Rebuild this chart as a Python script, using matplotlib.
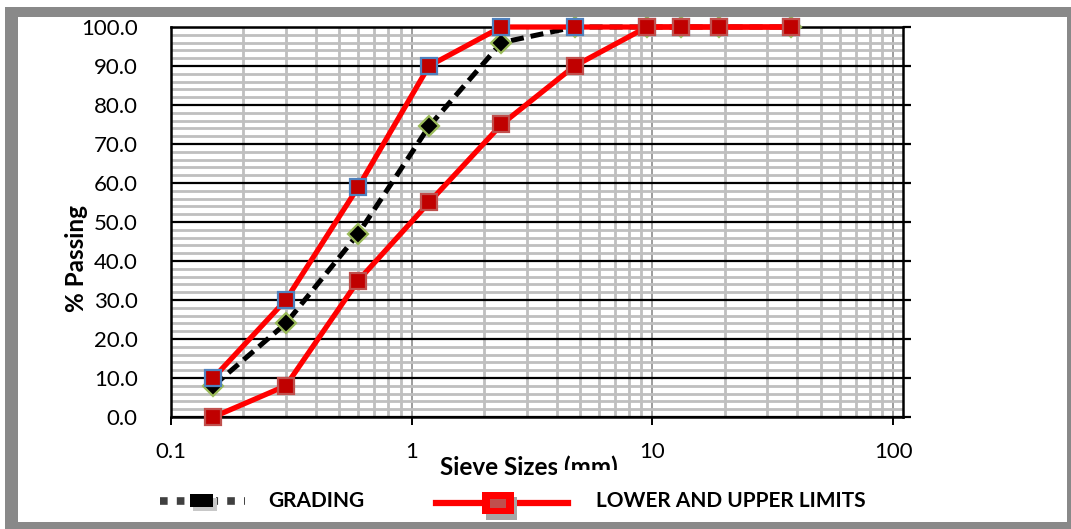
"""
  Sieve analysis grading curve with lower and upper limits.
"""

import matplotlib
matplotlib.use('Agg')
from matplotlib import pyplot as plt
from matplotlib.patches import Rectangle
from matplotlib.lines import Line2D
from matplotlib.ticker import FixedLocator, NullFormatter, FixedFormatter

plt.rcParams['font.family'] = ['Lato', 'DejaVu Sans']

# sieve sizes in mm
sieve_sizes = [0.15, 0.3, 0.6, 1.18, 2.36, 4.75, 9.5, 13.2, 19.0, 37.5]
grading = [8.0, 24.0, 47.0, 74.5, 96.0, 100.0, 100.0, 100.0, 100.0, 100.0]
upper_limit = [10.0, 30.0, 59.0, 90.0, 100.0, 100.0, 100.0, 100.0, 100.0, 100.0]
lower_limit = [0.0, 8.0, 35.0, 55.0, 75.0, 90.0, 100.0, 100.0, 100.0, 100.0]

x_ticks = [0.1, 1, 10, 100]
x_tick_labels = ['0.1', '1', '10', '100']
y_ticks = [0, 10, 20, 30, 40, 50, 60, 70, 80, 90, 100]

W, H = 1071, 529
fig = plt.figure(figsize=(W / 100, H / 100), dpi=100)
fig.patch.set_facecolor('white')


def fx(px):
    return px / W


def fy(py):
    return 1 - py / H


def box(x0, y0, x1, y1, color, z):
    """
        Rectangle given in pixel coords (top-left origin)
    """
    fig.add_artist(Rectangle((fx(x0), fy(y1)), (x1 - x0) / W, (y1 - y0) / H,
                             transform=fig.transFigure, fc=color, ec='none',
                             zorder=z))


# plot area in pixels: left 171, right 903, top 27, bottom 417
axis = fig.add_axes([171 / W, (H - 417) / H, (903 - 171) / W, (417 - 27) / H])
axis.set_xscale('log')
axis.set_xlim(0.1, 110)
axis.set_ylim(0, 100)

# grid lines
minor_x = [m * 10 ** e for e in (-1, 0, 1) for m in range(2, 10)]
axis.xaxis.set_major_locator(FixedLocator(x_ticks))
axis.xaxis.set_major_formatter(FixedFormatter(x_tick_labels))
axis.xaxis.set_minor_locator(FixedLocator(minor_x))
axis.xaxis.set_minor_formatter(NullFormatter())
axis.yaxis.set_major_locator(FixedLocator(y_ticks))
axis.yaxis.set_minor_locator(FixedLocator(
    [v for v in range(0, 101, 2) if v % 10]))
axis.set_yticklabels([f"{v:.1f}" for v in y_ticks])

axis.grid(which='minor', axis='both', color='#bfbfbf', lw=2.0, zorder=0)
axis.grid(which='major', axis='x', color='#8c8c8c', lw=1.2, zorder=0)
axis.grid(which='major', axis='y', color='black', lw=1.6, zorder=0)
axis.set_axisbelow(True)

axis.tick_params(axis='x', which='major', direction='out', length=6,
                 width=1.4, color='black', pad=12, labelsize=16)
axis.tick_params(axis='y', which='major', left=False, right=True,
                 direction='out', length=6, width=1.6, color='black',
                 pad=18, labelsize=16)
axis.tick_params(which='minor', length=0)
for spine in axis.spines.values():
    spine.set_linewidth(1.8)
    spine.set_color('black')

# series
axis.plot(sieve_sizes, grading, color='black', lw=3.6, ls=(0, (2.6, 1.4)),
          marker='D', ms=10, mfc='black', mec='#9bbb59', mew=1.6,
          clip_on=False, zorder=3)
axis.plot(sieve_sizes, upper_limit, color='#ff0000', lw=3.8, marker='s',
          ms=11.5, mfc='#c00000', mec='#4f81bd', mew=1.6, clip_on=False,
          zorder=4)
axis.plot(sieve_sizes, lower_limit, color='#ff0000', lw=3.8, marker='s',
          ms=11.5, mfc='#c00000', mec='#c0504d', mew=1.6, clip_on=False,
          zorder=5)

# axis titles
fig.text(fx(76), fy(258), '% Passing', rotation=90, weight='bold',
         fontsize=17.5, ha='center', va='center')
fig.text(fx(529), fy(467), 'Sieve Sizes (mm)', weight='bold',
         fontsize=17.5, ha='center', va='center')
# legend box partly covers the title, like in the original
box(557, 470, 646, 520, 'white', 5)

# legend: grading
fig.add_artist(Line2D([fx(160), fx(245)], [fy(501), fy(501)], color='#404040',
                      lw=5.5, ls=(0, (1.0, 1.2)), transform=fig.transFigure,
                      zorder=6))
box(187, 491, 216, 511, 'white', 6)
box(193, 498, 217, 511, '#c8c8c8', 6)
box(190, 494, 213, 507, 'black', 7)
fig.text(fx(268), fy(501), 'GRADING', weight='bold', fontsize=15,
         va='center', ha='left', zorder=7)

# legend: limits
fig.add_artist(Line2D([fx(436), fx(568)], [fy(503), fy(503)], color='#ff0000',
                      lw=4.5, transform=fig.transFigure, zorder=6))
box(486, 497, 517, 520, '#a6a6a6', 6)
box(482, 492, 514, 514, '#ff0000', 7)
box(490, 499, 506, 508, '#c0504d', 7)
fig.text(fx(596), fy(501), 'LOWER AND UPPER LIMITS', weight='bold',
         fontsize=15, va='center', ha='left', zorder=7)

# gray frame around the chart
frame = '#898989'
for x0, y0, x1, y1 in [(5, 7, 18, 529), (5, 7, 1071, 17),
                       (1067, 7, 1071, 529), (5, 522, 1071, 529)]:
    box(x0, y0, x1, y1, frame, 8)

fig.savefig('out.png', dpi=100)
